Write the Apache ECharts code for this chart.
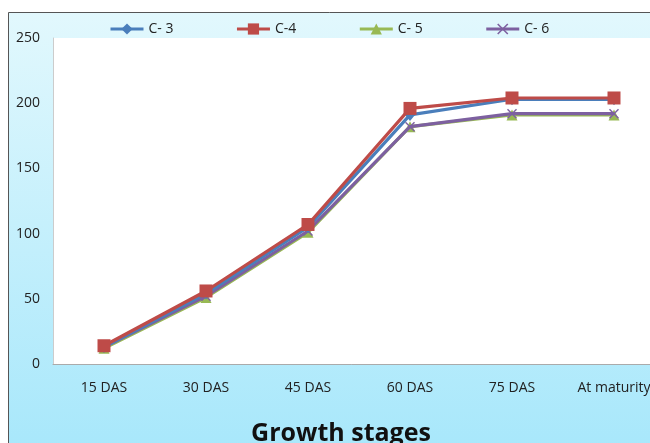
<!DOCTYPE html>
<html><head><meta charset="utf-8">
<script src="https://cdn.jsdelivr.net/npm/echarts@6/dist/echarts.min.js"></script>
<style>html,body{margin:0;padding:0;background:#fff;}#c{width:650px;height:443px;}</style>
</head><body><div id="c"></div>
<script>
const categories = ['15 DAS','30 DAS','45 DAS','60 DAS','75 DAS','At maturity'];
const seriesNames = ['C- 3','C-4','C- 5','C- 6'];
const c3 = [13, 54, 105, 191, 203, 203];
const c4 = [14, 56, 107, 196, 204, 204];
const c5 = [12, 51, 101, 182, 191, 191];
const c6 = [13, 52, 102, 182, 192, 192];
const yTicks = {min: 0, max: 250, interval: 50};
const colors = ['#4a7ebb','#be4b48','#98b954','#7d60a0'];
const symbols = ['diamond','rect','triangle','path://M1,0 L5,4 L9,0 L10,1 L6,5 L10,9 L9,10 L5,6 L1,10 L0,9 L4,5 L0,1 Z'];
const symSizes = [[10,12],13,11,10];
const dataSets = [c3,c4,c5,c6];
const chart = echarts.init(document.getElementById('c'));
const font = '"Open Sans", sans-serif';
chart.setOption({
  animation: false,
  graphic: [{
    type: 'rect', z: -10, silent: true,
    shape: {x: 8.5, y: 12.5, width: 660, height: 450},
    style: {
      fill: new echarts.graphic.LinearGradient(0,0,0,1,[{offset:0,color:'#e2f8fd'},{offset:1,color:'#a6e7fb'}]),
      stroke: '#555', lineWidth: 1
    }
  }],
  legend: {
    top: 17, left: 104, itemGap: 62, itemWidth: 33, itemHeight: 14,
    textStyle: {fontFamily: font, fontSize: 14, color: '#222'},
    lineStyle: {width: 3},
    data: seriesNames
  },
  grid: {left: 53, top: 38, bottom: 79, right: -15, show: true, backgroundColor: '#fff', borderWidth: 0, outerBoundsMode: 'none', containLabel: false},
  xAxis: {
    type: 'category', data: categories, boundaryGap: true,
    name: 'Growth stages', nameLocation: 'middle', nameGap: 57,
    nameTextStyle: {fontFamily: font, fontSize: 25, fontWeight: 'bold', color: '#111', padding: [0, 36, 0, 0]},
    axisLine: {lineStyle: {color: '#aaa', width: 1}},
    axisTick: {show: false},
    axisLabel: {fontFamily: font, fontSize: 14, color: '#222', margin: 17, interval: 0}
  },
  yAxis: {
    type: 'value', min: yTicks.min, max: yTicks.max, interval: yTicks.interval,
    axisLine: {show: true, lineStyle: {color: '#ccc'}},
    axisTick: {show: false},
    splitLine: {show: false},
    axisLabel: {fontFamily: font, fontSize: 14, color: '#222', margin: 13}
  },
  series: dataSets.map((d,i)=>({
    name: seriesNames[i], type: 'line', data: d,
    symbol: symbols[i], symbolSize: symSizes[i],
    lineStyle: {color: colors[i], width: 3.2},
    itemStyle: {color: colors[i]},
    z: [3,4,2,2.5][i]
  }))
});
</script></body></html>
